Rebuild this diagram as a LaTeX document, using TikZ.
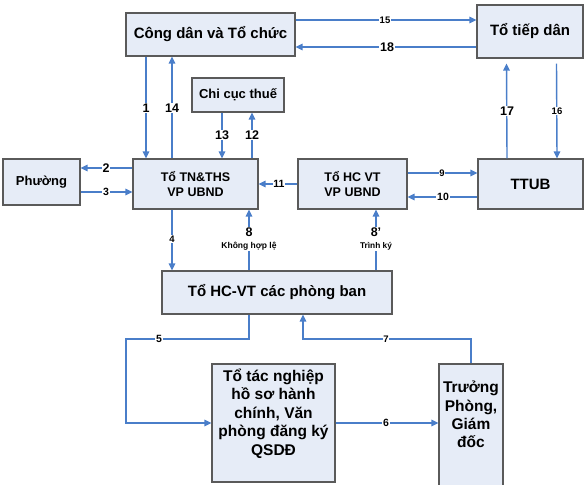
\documentclass[tikz,border=0pt]{standalone}
\usepackage{fontspec}
\setmainfont{Liberation Sans}
\usetikzlibrary{arrows.meta}
\definecolor{boxfill}{RGB}{230,236,247}
\definecolor{boxline}{RGB}{90,90,90}
\definecolor{arrblue}{RGB}{74,126,201}
\begin{document}
\begin{tikzpicture}[x=1pt,y=-1pt,
 box/.style={draw=boxline, line width=1.1pt, fill=boxfill, inner sep=0pt, align=center, font=\bfseries\fontsize{15}{18}\selectfont},
 midbox/.style={box, font=\bfseries\fontsize{12.5}{15}\selectfont},
 smbox/.style={box, font=\bfseries\fontsize{13}{15}\selectfont},
 arr/.style={draw=arrblue, line width=1.4pt, -{Triangle[length=7pt,width=6.5pt]}},
 num/.style={fill=white, inner sep=0.8pt, font=\bfseries\fontsize{10.5}{12}\selectfont},
 bignum/.style={num, font=\bfseries\fontsize{12.5}{14}\selectfont},
 smnum/.style={num, font=\bfseries\fontsize{9.5}{11}\selectfont},
 tag/.style={fill=white, inner sep=1pt, align=center, font=\bfseries\fontsize{12.5}{13}\selectfont},
 txt/.style={align=center, inner sep=0pt, font=\bfseries\fontsize{15.5}{18.4}\selectfont},
 ]
\useasboundingbox (0,0) rectangle (585,484);
% boxes
\node[box, minimum width=169pt, minimum height=43pt] (cd) at (210.5,34.5) {Công dân và Tổ chức};
\node[box, minimum width=106pt, minimum height=53pt] (ttd) at (530,31.5) {Tổ tiếp dân};
\node[smbox, minimum width=92pt, minimum height=34pt] (cc) at (238,95) {Chi cục thuế};
\node[smbox, minimum width=77pt, minimum height=46pt] (ph) at (41.5,182) {Phường};
\node[midbox, minimum width=125pt, minimum height=50pt] (tn) at (195.5,184) {Tổ TN\&THS\\VP UBND};
\node[midbox, minimum width=109pt, minimum height=50pt] (hc) at (352.5,184) {Tổ HC VT\\VP UBND};
\node[box, minimum width=105pt, minimum height=50pt] (tt) at (530.5,184) {TTUB};
\node[box, minimum width=230pt, minimum height=43pt] (pb) at (277,292.5) {Tổ HC-VT các phòng ban};
\node[box, minimum width=123pt, minimum height=118pt] (tg) at (273.5,423) {};
\node[txt] (tgt) at (273.5,413.5) {Tổ tác nghiệp\\hồ sơ hành\\chính, Văn\\phòng đăng ký\\QSDĐ};
\node[box, minimum width=64pt, minimum height=130pt] (tp) at (471,429) {};
\node[txt] (tpt) at (471,414.5) {Trưởng\\Phòng,\\Giám\\đốc};
% connectors
\draw[arr] ([xshift=-64.5pt]cd.south) -- ([xshift=-49.5pt]tn.north);
\draw[arr] ([xshift=-23.5pt]tn.north) -- ([xshift=-38.5pt]cd.south);
\draw[arr] ([xshift=-16pt]cc.south) -- ([xshift=26.5pt]tn.north);
\draw[arr] ([xshift=56.5pt]tn.north) -- ([xshift=14pt]cc.south);
\draw[arr] ([yshift=16pt]tn.west) -- ([yshift=14pt]ph.east);
\draw[arr] ([yshift=-10pt]ph.east) -- ([yshift=-8pt]tn.west);
\draw[arr] (hc.west) -- (tn.east);
\draw[arr] ([yshift=11pt]hc.east) -- ([yshift=11pt]tt.west);
\draw[arr] ([yshift=-13pt]tt.west) -- ([yshift=-13pt]hc.east);
\draw[arr] ([yshift=14.5pt]cd.east) -- ([yshift=11.5pt]ttd.west);
\draw[arr] ([yshift=-15.5pt]ttd.west) -- ([yshift=-12.5pt]cd.east);
\draw[arr] ([xshift=-23.5pt]tt.north) -- ([xshift=-23.5pt,yshift=-5pt]ttd.south);
\draw[arr] ([xshift=26.5pt,yshift=-5pt]ttd.south) -- ([xshift=26.5pt]tt.north);
\draw[arr] ([xshift=-23.5pt]tn.south) -- ([xshift=-105pt]pb.north);
\draw[arr] ([xshift=-28pt]pb.north) -- ([xshift=53.5pt]tn.south);
\draw[arr] ([xshift=99pt]pb.north) -- ([xshift=23.5pt]hc.south);
\coordinate (k5) at (126,339);
\coordinate (k7) at (303,339);
\draw[arr] ([xshift=-28pt]pb.south) |- (k5) |- (tg.west);
\draw[arr] (tg.east) -- (tg.east -| tp.west);
\draw[arr] (tp.north) |- (k7) -- ([xshift=26pt]pb.south);
% labels
\node[bignum] (l1) at (146,108) {1};
\node[bignum] (l14) at (172,108) {14};
\node[bignum] (l13) at (222,135) {13};
\node[bignum] (l12) at (252,135) {12};
\node[bignum] (l2) at (106,168) {2};
\node[num] (l3) at (106,192) {3};
\node[num] (l11) at (279,184) {11};
\node[smnum] (l9) at (442,173) {9};
\node[num] (l10) at (443,197) {10};
\node[smnum] (l15) at (385,20) {15};
\node[bignum] (l18) at (387,47) {18};
\node[bignum] (l17) at (507,111) {17};
\node[smnum] (l16) at (557,111) {16};
\node[smnum] (l4) at (172,239) {4};
\node[num] (l5) at (159,339) {5};
\node[num] (l6) at (386,423) {6};
\node[smnum] (l7) at (386,339) {7};
\node[tag] (l8) at (249,239) {8\\[-1pt]{\fontsize{8.5}{9}\selectfont Không hợp lệ}};
\node[tag] (l8p) at (376,239) {8'\\[-1pt]{\fontsize{8.3}{9}\selectfont Trình ký}};
\end{tikzpicture}
\end{document}
